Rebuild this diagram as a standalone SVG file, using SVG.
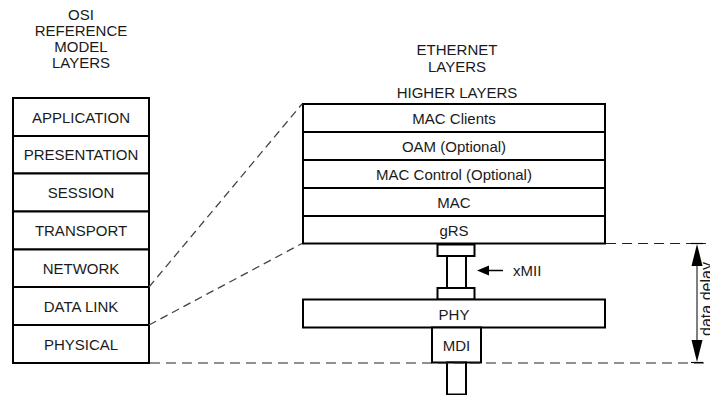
<svg xmlns="http://www.w3.org/2000/svg" width="710" height="395" viewBox="0 0 710 395">
<defs>
<style>
text{font-family:"Liberation Sans",Arial,sans-serif;font-size:15px;fill:#1a1a1a;text-anchor:middle}
.box{fill:#fff;stroke:#000;stroke-width:2}
.dg{fill:none;stroke:#444;stroke-width:1.3;stroke-dasharray:8 5}
.dh{fill:none;stroke:#222;stroke-width:1.2;stroke-dasharray:10 6}
.head{fill:#000}
</style>
</defs>
<rect width="710" height="395" fill="#fff"/>

<g id="osi-title">
<text x="81" y="20">OSI</text>
<text x="81" y="36">REFERENCE</text>
<text x="81" y="52">MODEL</text>
<text x="81" y="67.5">LAYERS</text>
</g>

<g id="osi-application"><rect class="box" x="13" y="98" width="136" height="38"/><text x="81" y="122.5">APPLICATION</text></g>
<g id="osi-presentation"><rect class="box" x="13" y="136" width="136" height="37.5"/><text x="81" y="160">PRESENTATION</text></g>
<g id="osi-session"><rect class="box" x="13" y="173.5" width="136" height="38"/><text x="81" y="198">SESSION</text></g>
<g id="osi-transport"><rect class="box" x="13" y="211.5" width="136" height="38"/><text x="81" y="236">TRANSPORT</text></g>
<g id="osi-network"><rect class="box" x="13" y="249.5" width="136" height="37.5"/><text x="81" y="273.5">NETWORK</text></g>
<g id="osi-datalink"><rect class="box" x="13" y="287" width="136" height="38"/><text x="81" y="311.5">DATA LINK</text></g>
<g id="osi-physical"><rect class="box" x="13" y="325" width="136" height="38"/><text x="81" y="349.5">PHYSICAL</text></g>

<g id="eth-title">
<text x="457" y="55">ETHERNET</text>
<text x="457" y="71.5">LAYERS</text>
<text x="457" y="97.5">HIGHER LAYERS</text>
</g>

<g id="eth-macclients"><rect class="box" x="303" y="104" width="302" height="28"/><text x="454" y="124">MAC Clients</text></g>
<g id="eth-oam"><rect class="box" x="303" y="132" width="302" height="28"/><text x="454" y="152">OAM (Optional)</text></g>
<g id="eth-maccontrol"><rect class="box" x="303" y="160" width="302" height="28"/><text x="454" y="180">MAC Control (Optional)</text></g>
<g id="eth-mac"><rect class="box" x="303" y="188" width="302" height="28"/><text x="454" y="208">MAC</text></g>
<g id="eth-grs"><rect class="box" x="303" y="216" width="302" height="27.5"/><text x="454" y="236">gRS</text></g>

<g id="xmii">
<rect class="box" x="437.5" y="244.5" width="37" height="11.5"/>
<rect class="box" x="447" y="256" width="19" height="32"/>
<rect class="box" x="437.5" y="288" width="37" height="11.5"/>
</g>
<g id="eth-phy"><rect class="box" x="303" y="299.5" width="302" height="28"/><text x="454" y="319.5">PHY</text></g>
<g id="eth-mdi"><rect class="box" x="432" y="327.5" width="49" height="35"/><text x="456.5" y="350.5">MDI</text></g>
<g id="medium"><rect class="box" x="447" y="362.5" width="19" height="32"/></g>

<g id="connectors">
<line class="dg" x1="149" y1="287" x2="302" y2="104"/>
<line class="dg" x1="149" y1="325" x2="302" y2="243.5"/>
<line class="dh" x1="606" y1="243.5" x2="706" y2="243.5"/>
<line class="dh" x1="150" y1="363" x2="706" y2="363"/>
<line x1="503" y1="270.5" x2="486" y2="270.5" stroke="#000" stroke-width="1.5"/>
<polygon class="head" points="477,270.5 489,265.5 489,275.5"/>
<line x1="697" y1="262" x2="697" y2="344" stroke="#555" stroke-width="1.5"/>
<polygon class="head" points="697,244 691.5,266 702.5,266"/>
<polygon class="head" points="697,362 691.5,340 702.5,340"/>
<line x1="691" y1="243.5" x2="703" y2="243.5" stroke="#000" stroke-width="1.2"/>
<line x1="691" y1="362.5" x2="703" y2="362.5" stroke="#000" stroke-width="1.2"/>
</g>

<g id="labels">
<text x="513" y="275.5" style="text-anchor:start">xMII</text>
<text transform="translate(712,299) rotate(-90)" style="font-size:16px">data delay</text>
</g>
</svg>
